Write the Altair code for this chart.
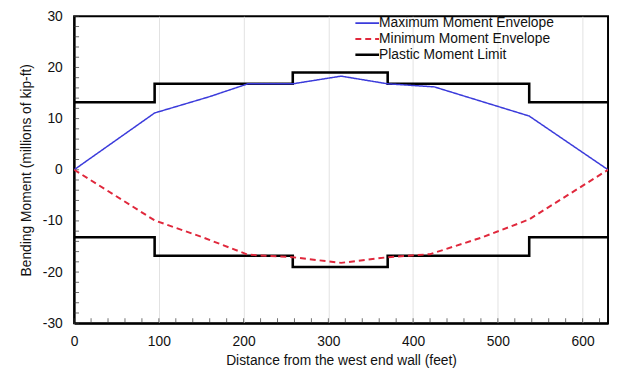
import altair as alt
import pandas as pd

# ---- data ----
series_names = ["Maximum Moment Envelope", "Minimum Moment Envelope", "Plastic Moment Limit"]

max_x = [0, 95, 160, 205, 258, 315, 370, 425, 537, 630]
max_y = [0, 11.1, 14.3, 16.8, 16.8, 18.3, 16.8, 16.2, 10.5, 0]

min_x = [0, 95, 150, 205, 258, 315, 370, 420, 480, 537, 630]
min_y = [0, -9.9, -13.1, -16.6, -17.1, -18.2, -17.1, -16.5, -13.3, -9.7, 0]

plastic_x = [0, 95, 258, 370, 537, 630]
plastic_upper = [13.2, 16.8, 19.0, 16.8, 13.2, 13.2]
plastic_lower = [-13.2, -16.8, -19.0, -16.8, -13.2, -13.2]

x_ticks = list(range(0, 631, 100))
y_ticks = list(range(-30, 31, 10))
x_minor_ticks = list(range(0, 631, 20))
y_minor_ticks = list(range(-30, 31, 2))

colors = ["#3b3bdb", "#e0283c", "#000000"]
dashes = [[1, 0], [6, 4], [1, 0]]

# ---- build tables ----
max_df = pd.DataFrame({"series": series_names[0], "x": max_x, "y": max_y})
min_df = pd.DataFrame({"series": series_names[1], "x": min_x, "y": min_y})

pl_rows = []
for x, y in zip(plastic_x, plastic_upper):
    pl_rows.append({"series": series_names[2], "part": "upper", "x": x, "y": y})
for x, y in zip(plastic_x, plastic_lower):
    pl_rows.append({"series": series_names[2], "part": "lower", "x": x, "y": y})
pl = pd.DataFrame(pl_rows)

xt = pd.DataFrame({"x": x_minor_ticks})
yt = pd.DataFrame({"y": y_minor_ticks})

FONT = "Liberation Sans"

x_scale = alt.Scale(domain=[0, 630], nice=False, zero=False)
y_scale = alt.Scale(domain=[-30, 30], nice=False, zero=False)

x_axis = alt.Axis(
    title="Distance from the west end wall (feet)",
    values=x_ticks,
    labelOverlap=False,
    labelFlush=False,
    ticks=False,
    labelPadding=12,
    titlePadding=5,
)
y_axis = alt.Axis(
    title="Bending Moment (millions of kip-ft)",
    values=y_ticks,
    labelExpr="datum.value + ''",
    labelOverlap=False,
    labelFlush=False,
    ticks=False,
    labelPadding=12,
    titlePadding=9,
)

x_enc = alt.X("x:Q", scale=x_scale, axis=x_axis)
y_enc = alt.Y("y:Q", scale=y_scale, axis=y_axis)

legend = alt.Legend(
    title=None,
    orient="none",
    legendX=290,
    legendY=0,
    symbolType="M-2.4,0H2.4",
    symbolSize=100,
    symbolStrokeWidth=alt.expr("datum.value === 'Plastic Moment Limit' ? 2.6 : 1.8"),
    labelFontSize=14,
    labelFont=FONT,
    labelColor="#111",
    labelOffset=5,
    labelLimit=400,
    rowPadding=2,
    padding=0,
)

color_enc = alt.Color("series:N", scale=alt.Scale(domain=series_names, range=colors), legend=legend)
dash_enc = alt.StrokeDash("series:N", scale=alt.Scale(domain=series_names, range=dashes), legend=legend)

max_layer = alt.Chart(max_df).mark_line(clip=True, strokeWidth=1.5).encode(
    x=x_enc, y=y_enc, color=color_enc, strokeDash=dash_enc, order="x:Q",
)
min_layer = alt.Chart(min_df).mark_line(clip=True, strokeWidth=2).encode(
    x=x_enc, y=y_enc, color=color_enc, strokeDash=dash_enc, order="x:Q",
)
pl_layer = alt.Chart(pl).mark_line(interpolate="step-after", clip=True, strokeWidth=2.6).encode(
    x=x_enc, y=y_enc, color=color_enc, strokeDash=dash_enc, detail="part:N", order="x:Q",
)

x_minor = alt.Chart(xt).mark_tick(orient="vertical", size=5, thickness=1, color="#333", yOffset=-2.5).encode(
    x=alt.X("x:Q", scale=x_scale, axis=x_axis),
    y=alt.datum(-30, scale=y_scale),
)
y_minor = alt.Chart(yt).mark_tick(orient="horizontal", size=5, thickness=1, color="#333", xOffset=2.5).encode(
    y=alt.Y("y:Q", scale=y_scale, axis=y_axis),
    x=alt.datum(0),
)

chart = (
    alt.layer(x_minor, y_minor, pl_layer, max_layer, min_layer)
    .properties(
        width=541,
        height=311,
        autosize="none",
        padding={"left": 67, "top": 6, "right": 2, "bottom": 45},
    )
    .configure_view(stroke="#000", strokeWidth=2)
    .configure_axis(
        labelFont=FONT,
        titleFont=FONT,
        labelFontSize=14,
        titleFontSize=14,
        titleFontWeight="normal",
        labelColor="#111",
        titleColor="#111",
        domainColor="#000",
        domainWidth=2,
        gridColor="#e2e2e2",
        gridWidth=1,
    )
)

chart.save("out.html", embed_options={"renderer": "svg", "actions": False})
